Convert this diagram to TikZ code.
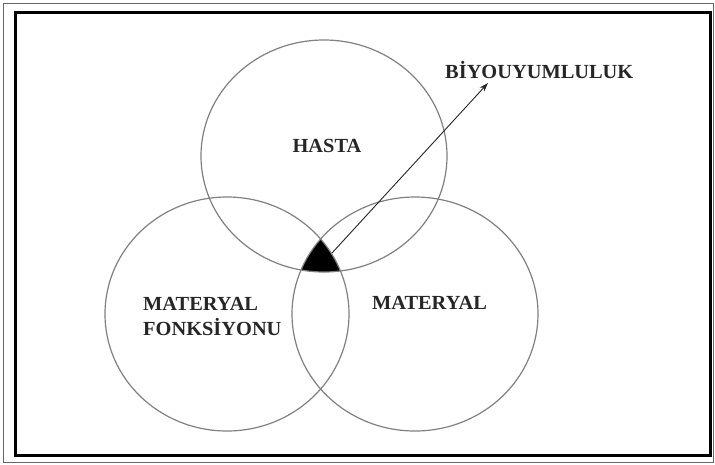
\documentclass[tikz,border=0pt]{standalone}
\usepackage{fontspec}
\setmainfont{Liberation Serif}
\usetikzlibrary{arrows.meta}
\begin{document}
\begin{tikzpicture}[x=1pt,y=-1pt,
  venn/.style={draw=black!50, line width=1.2pt},
  lbl/.style={font=\fontsize{20}{25}\selectfont\bfseries, text=black!85, inner sep=0pt, xscale=1.02},
]
\useasboundingbox (0,0) rectangle (715,464);
\fill[white] (0,0) rectangle (715,464);
\draw[black!60, line width=1pt] (3,3) rectangle (713,462);
\draw[black, line width=2.5pt] (15.5,12.5) rectangle (710.5,455.5);
\coordinate (ct) at (324,156);
\coordinate (cl) at (227,314);
\coordinate (cr) at (415,314);
\begin{scope}
  \clip (ct) ellipse [x radius=123pt, y radius=116pt];
  \clip (cl) ellipse [x radius=122pt, y radius=117pt];
  \fill[black] (cr) ellipse [x radius=123pt, y radius=117pt];
\end{scope}
\draw[venn] (ct) ellipse [x radius=123pt, y radius=116pt];
\draw[venn] (cl) ellipse [x radius=122pt, y radius=117pt];
\draw[venn] (cr) ellipse [x radius=123pt, y radius=117pt];
\node[lbl] (hasta) at (327,146) {HASTA};
\node[lbl, anchor=west] (bio) at (445,70) {BİYOUYUMLULUK};
\node[lbl, align=left, anchor=west] (mf) at (143,316) {MATERYAL\\FONKSİYONU};
\node[lbl] (mat) at (429.5,303) {MATERYAL};
\coordinate (core) at (332,253);
\coordinate (tip) at (488,83);
\draw[-{Stealth[length=9pt,width=6pt]}, line width=0.9pt, black!85] (core) -- (tip);
\end{tikzpicture}
\end{document}
